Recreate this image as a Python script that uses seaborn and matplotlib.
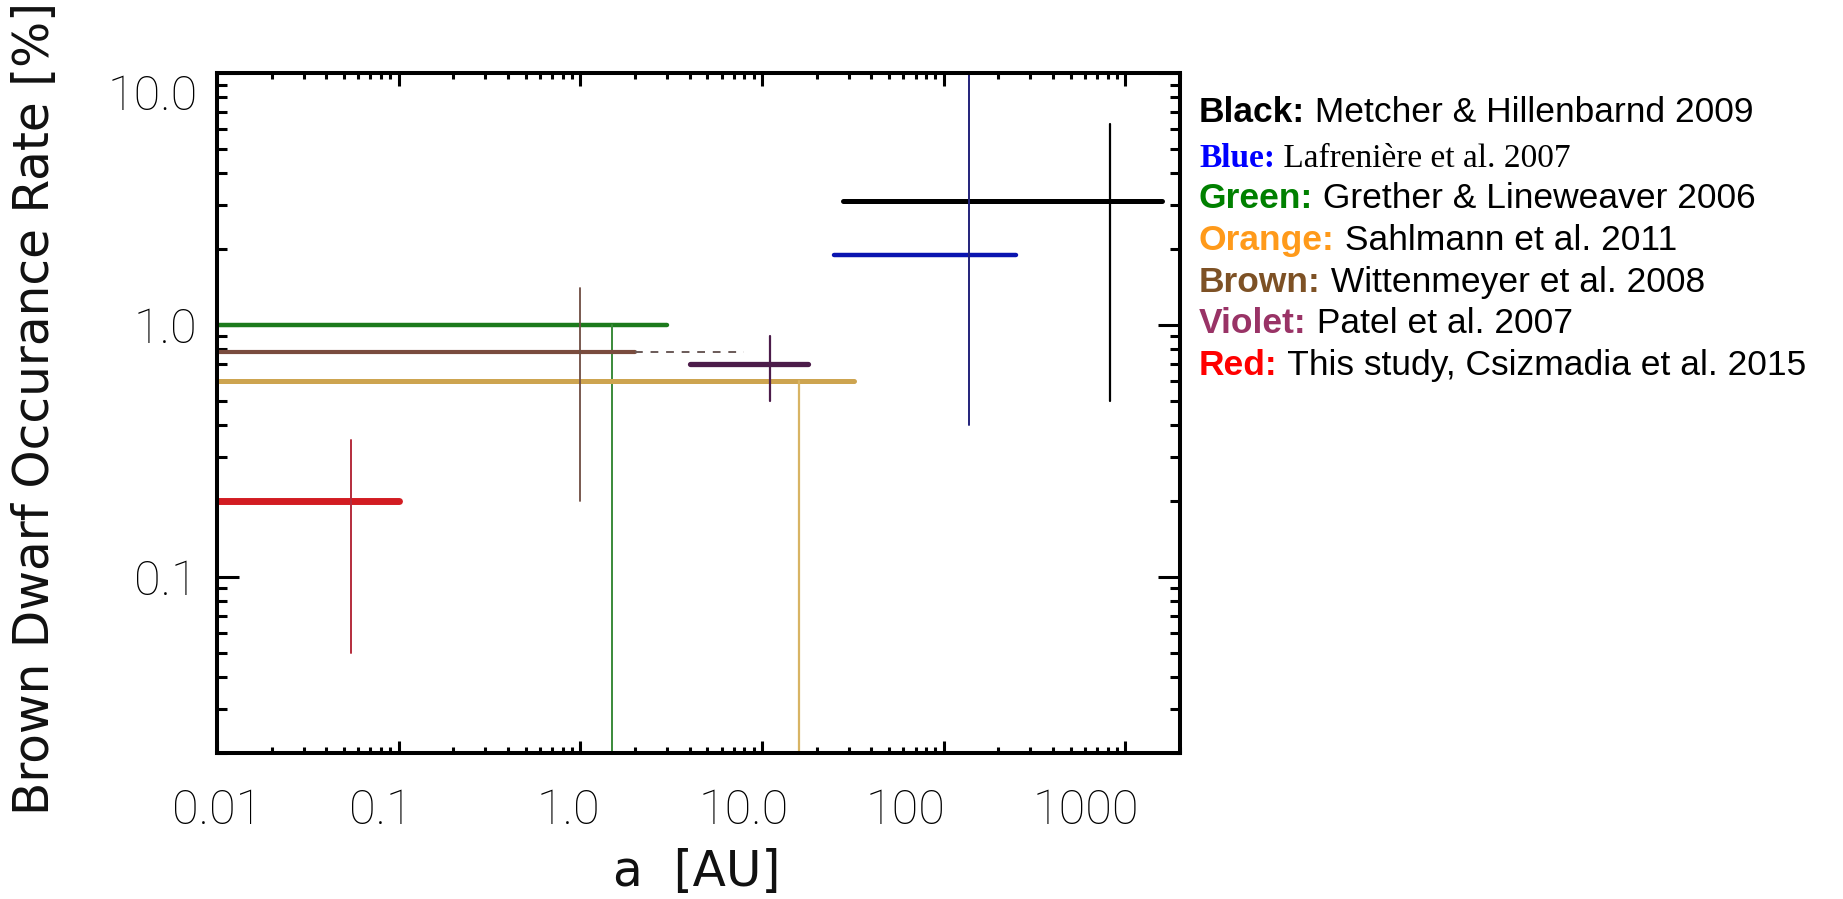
import numpy as np
import seaborn as sns
import matplotlib
matplotlib.use("Agg")
from matplotlib import pyplot as plt
from matplotlib.transforms import ScaledTranslation
from matplotlib.ticker import LogLocator, NullFormatter

# one cross per study: horizontal = range in a, vertical = error on the rate
studies = ["Black", "Blue", "Green", "Orange", "Brown", "Violet", "Red"]
a_lo = [28, 25, 0.01, 0.01, 0.01, 4.0, 0.01]
a_hi = [1600, 250, 3.0, 32, 2.0, 18, 0.1]
a_mid = [820, 137, 1.5, 16, 1.0, 11, 0.055]
rate = [3.1, 1.9, 1.0, 0.6, 0.78, 0.7, 0.2]
rate_lo = [0.5, 0.4, 0.01, 0.01, 0.2, 0.5, 0.05]
rate_hi = [6.3, 12.0, 1.0, 0.6, 1.4, 0.9, 0.35]

# Wittenmeyer dashed extension
dash_a = [2.0, 8.0]
dash_rate = [0.78, 0.78]

xtick_vals = [0.01, 0.1, 1.0, 10.0, 100, 1000]
xtick_labels = ["0.01", "0.1", "1.0", "10.0", "100", "1000"]
ytick_vals = [0.1, 1.0, 10.0]
ytick_labels = ["0.1", "1.0", "10.0"]

refs = [
    ("Black:", " Metcher & Hillenbarnd 2009", "#000000"),
    ("Blue:", " Lafrenière et al. 2007", "#0000ff"),
    ("Green:", " Grether & Lineweaver 2006", "#008000"),
    ("Orange:", " Sahlmann et al. 2011", "#ff9a1a"),
    ("Brown:", " Wittenmeyer et al. 2008", "#7d5125"),
    ("Violet:", " Patel et al. 2007", "#993366"),
    ("Red:", " This study, Csizmadia et al. 2015", "#ff0000"),
]

hcol = ["#000000", "#0a14b0", "#1c7a1c", "#cda450", "#7a4c3e", "#4c1c4a", "#d21c22"]
vcol = ["#000000", "#22227a", "#3a8a3a", "#d8b464", "#6e4c42", "#4c1c4a", "#b42c3c"]
hlw = [3.6, 3.2, 3.2, 3.6, 3.0, 3.8, 5.0]
vlw = [1.6, 1.4, 1.4, 1.6, 1.3, 1.6, 1.4]

sns.set_style("ticks")
plt.rcParams['font.family'] = ['Roboto', 'DejaVu Sans']
plt.rcParams['font.weight'] = 'light'

fig = plt.figure(figsize=(18.43, 8.99), dpi=100)
ax = fig.add_axes([0.1177, 0.1624, 0.5226, 0.7564])
ax.set_xscale('log')
ax.set_yscale('log')

for i in range(len(studies)):
    sns.lineplot(x=[a_lo[i], a_hi[i]], y=[rate[i], rate[i]], color=hcol[i],
                 lw=hlw[i], estimator=None, sort=False, ax=ax)
    sns.lineplot(x=[a_mid[i], a_mid[i]], y=[rate_lo[i], rate_hi[i]], color=vcol[i],
                 lw=vlw[i], estimator=None, sort=False, ax=ax)
sns.lineplot(x=dash_a, y=dash_rate, color="#6a5a58", lw=1.4, linestyle=(0, (4, 4)),
             estimator=None, sort=False, ax=ax)

ax.set_xlim(0.01, 2000)
ax.set_ylim(0.02, 10)
ax.set_xticks(xtick_vals)
ax.set_xticklabels(xtick_labels)
ax.set_yticks(ytick_vals)
ax.set_yticklabels(ytick_labels)
for axis in (ax.xaxis, ax.yaxis):
    axis.set_minor_locator(LogLocator(base=10, subs=np.arange(2, 10) * 1.0, numticks=30))
    axis.set_minor_formatter(NullFormatter())
ax.set_xlabel("")
ax.set_ylabel("")

for s in ax.spines.values():
    s.set_linewidth(2.9)
    s.set_color("black")
ax.tick_params(which='both', direction='in', top=True, right=True, width=2.2,
               color="black", labelcolor="black")
ax.tick_params(axis='x', which='major', length=9, pad=25, labelsize=35)
ax.tick_params(axis='x', which='minor', length=4.5)
ax.tick_params(axis='y', which='major', length=16, pad=14, labelsize=35)
ax.tick_params(axis='y', which='minor', length=7)

# nudge tick labels like the original
x_shift = [0, -18, -12, -18, -38, -40]
for lab, dx in zip(ax.get_xticklabels(), x_shift):
    lab.set_transform(lab.get_transform() + ScaledTranslation(dx / 100, 0, fig.dpi_scale_trans))
ylabs = ax.get_yticklabels()
ylabs[-1].set_transform(ylabs[-1].get_transform() + ScaledTranslation(0, -19 / 100, fig.dpi_scale_trans))

fig.text(0.019, 0.546, "Brown Dwarf Occurance Rate [%]", rotation=90, fontsize=35,
         ha='center', va='center', color='#111111', family='DejaVu Sans', fontweight='normal')
fig.text(0.378, 0.030, "a  [AU]", fontsize=35, ha='center', va='center',
         color='#111111', family='DejaVu Sans', fontweight='normal')

# reference list on the right
base_y = [122, 167, 208, 250, 292, 333, 375]
for (head, rest, col), yb in zip(refs, base_y):
    serif = head == "Blue:"
    fam = 'Liberation Serif' if serif else 'Liberation Sans'
    size = 24 if serif else 25.5
    t = fig.text(1199 / 1843, 1 - yb / 899, head, color=col, fontsize=size,
                 fontweight='bold', family=fam, va='baseline', ha='left')
    ax.annotate(rest, xy=(1, 0), xycoords=t, va='bottom', ha='left',
                fontsize=size, family=fam, fontweight='normal', color='black')

fig.savefig("out.png", dpi=100)
